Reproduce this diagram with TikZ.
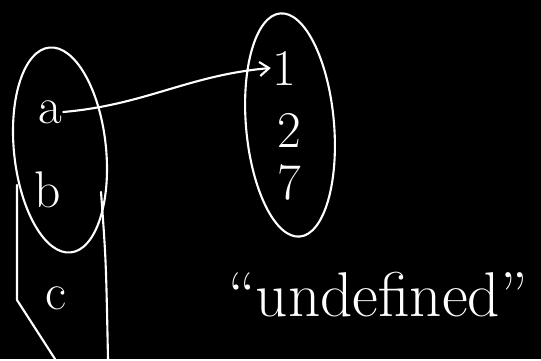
\documentclass[tikz,border=0pt]{standalone}
\usepackage{tikz}
\usetikzlibrary{arrows.meta, positioning}

\tikzset{
  ink/.style={draw=white, line width=1.8pt, line cap=round, line join=round},
  elem/.style={text=white, font=\fontsize{44}{50}\selectfont, inner sep=1pt},
}

\begin{document}
\begin{tikzpicture}[x=0.03cm, y=-0.03cm]
\fill[black] (0,0) rectangle (541,359);

% domain set
\draw[ink, rotate around={6:(60,150)}] (60,150) ellipse (46 and 103);
\draw[ink] (17,185) -- (17,300) -- (55,359);
\draw[ink] (101,192) .. controls (106,260) .. (108,359);

\node[elem] (a) at (50,112) {a};
\node[elem] (b) at (48,190) {b};
\node[elem] (c) at (56,298) {c};

% codomain set
\draw[ink, rotate around={5:(290,125)}] (290,125) ellipse (44 and 112);

\node[elem] (one) at (284,68) {1};
\node[elem] (two) at (289,130) {2};
\node[elem] (seven) at (289,182) {7};

\draw[ink, -{Straight Barb[length=8pt, width=12pt]}] (a.east) to[out=5, in=185] (one.west);

\node[elem, font=\fontsize{54}{60}\selectfont] (undef) at (378,295) {``undefined''};
\end{tikzpicture}
\end{document}
